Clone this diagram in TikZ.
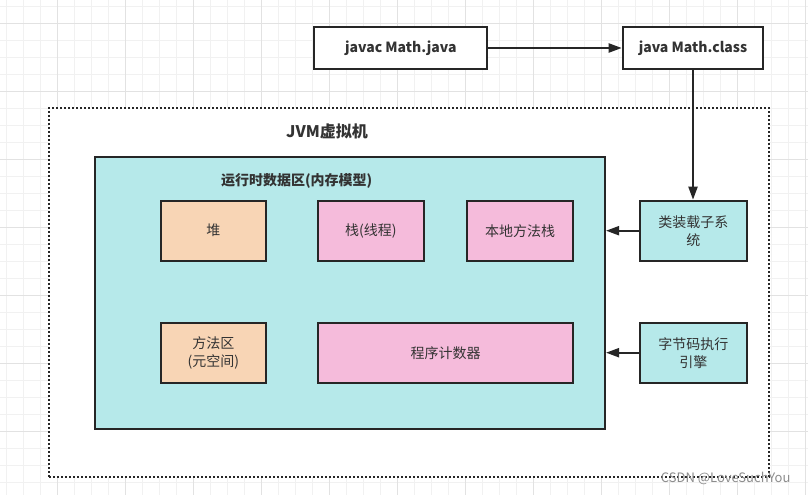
\documentclass[tikz,border=0pt]{standalone}
\usepackage{fontspec}
\setmainfont{Noto Sans CJK SC}
\usepackage{tikz}
\usetikzlibrary{arrows.meta,positioning}
\definecolor{gridminor}{HTML}{F1F1F1}
\definecolor{gridmajor}{HTML}{E2E2E2}
\definecolor{edge}{HTML}{262626}
\definecolor{ink}{HTML}{333333}
\definecolor{tealfill}{HTML}{B6E9EA}
\definecolor{peachfill}{HTML}{F8D5B5}
\definecolor{pinkfill}{HTML}{F5BBDB}

\begin{document}
\begin{tikzpicture}[x=1pt, y=-1pt,
    box/.style={draw=edge, line width=2pt, text=ink, font=\fontsize{14}{18}\selectfont, align=center, inner sep=0pt},
    cmdbox/.style={box, fill=white, minimum height=42pt, font=\fontsize{14}{17}\selectfont\bfseries},
    heapbox/.style={box, fill=peachfill, minimum width=105pt, minimum height=60pt},
    stackbox/.style={box, fill=pinkfill, minimum height=60pt},
    subbox/.style={box, fill=tealfill, minimum width=106.5pt, minimum height=60pt},
    flow/.style={draw=edge, line width=2pt, -{Triangle[length=13pt,width=9pt]}}]
    \useasboundingbox (0,0) rectangle (808,495);
    \fill[white] (0,0) rectangle (808,495);
    \foreach \x in {6.7,23.7,...,808} \draw[gridminor, line width=1pt] (\x,0) -- (\x,495);
    \foreach \y in {6.7,23.7,...,495} \draw[gridminor, line width=1pt] (0,\y) -- (808,\y);
    \foreach \x in {57.7,125.7,...,808} \draw[gridmajor, line width=1pt] (\x,0) -- (\x,495);
    \foreach \y in {23.7,91.7,...,495} \draw[gridmajor, line width=1pt] (0,\y) -- (808,\y);

    \node[draw=edge, dotted, line width=2pt, fill=white, minimum width=720pt, minimum height=369pt] (jvm) at (409,292.5) {};
    \node[text=ink, font=\fontsize{16}{19}\selectfont\bfseries] (jvmlabel) at (327,131.7) {JVM虚拟机};
    \node[draw=edge, line width=2pt, fill=tealfill, minimum width=510pt, minimum height=272pt] (data) at (350,292.8) {};
    \node[text=ink, font=\fontsize{14}{17}\selectfont\bfseries] (datalabel) at (296.7,181) {运行时数据区(内存模型)};

    \node[cmdbox, minimum width=173pt] (javac) at (400.8,48) {javac Math.java};
    \node[cmdbox, minimum width=140.6pt] (java) at (693,48) {java Math.class};

    \node[heapbox] (heap) at (213.3,230.7) {堆};
    \node[stackbox, minimum width=106.3pt] (stack) at (370.8,230.7) {栈(线程)};
    \node[stackbox, minimum width=106.6pt] (native) at (520,230.7) {本地方法栈};
    \node[heapbox] (method) at (213.3,352.7) {方法区\\(元空间)};
    \node[stackbox, minimum width=255.6pt] (counter) at (445.5,352.7) {程序计数器};

    \node[subbox] (loader) at (693.3,230.7) {类装载子系\\统};
    \node[subbox] (engine) at (693.3,352.7) {字节码执行\\引擎};

    \draw[flow] (javac) -- (java);
    \draw[flow] (java.south) -- (java.south |- loader.north);
    \draw[flow] (loader.west) -- (loader.west -| data.east);
    \draw[flow] (engine.west) -- (engine.west -| data.east);

    \node[text=black!45, font=\fontsize{13}{15}\selectfont, anchor=east] (mark) at (794,478) {CSDN @LoveSuchYou};
\end{tikzpicture}
\end{document}
